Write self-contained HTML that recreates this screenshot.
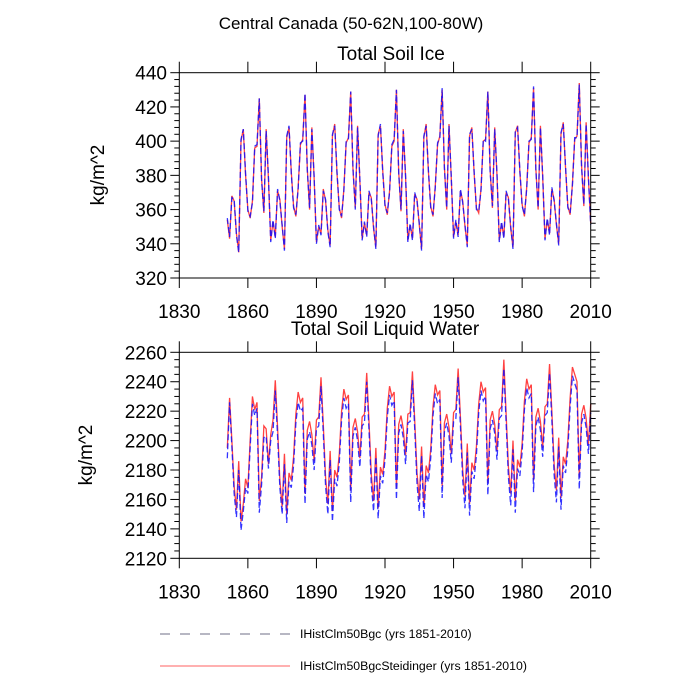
<!DOCTYPE html>
<html><head><meta charset="utf-8"><style>
body{margin:0;background:#fff;}
svg{display:block;font-family:"Liberation Sans",sans-serif;}
</style></head><body>
<svg id="chart" width="700" height="700" viewBox="0 0 700 700">
<text x="351" y="29" font-size="17" text-anchor="middle">Central Canada (50-62N,100-80W)</text>
<text x="391" y="60" font-size="19" text-anchor="middle">Total Soil Ice</text>
<text x="385" y="335" font-size="19" text-anchor="middle">Total Soil Liquid Water</text>
<text transform="translate(104,175) rotate(-90)" font-size="19" text-anchor="middle">kg/m^2</text>
<text transform="translate(92,455) rotate(-90)" font-size="19" text-anchor="middle">kg/m^2</text>
<g>
<line x1="160" y1="634" x2="290" y2="634" stroke="#404060" stroke-width="0.8" stroke-dasharray="10,10"/>
<text x="300" y="638" font-size="12.3">IHistClm50Bgc (yrs 1851-2010)</text>
<line x1="160" y1="666" x2="290" y2="666" stroke="#ff6060" stroke-width="1"/>
<text x="300" y="670" font-size="12.3">IHistClm50BgcSteidinger (yrs 1851-2010)</text>
</g>
</svg>
<script>
const startYear = 1851;
const xTickLabels = [1830,1860,1890,1920,1950,1980,2010];
const iceTicks = [320,340,360,380,400,420,440];
const liqTicks = [2120,2140,2160,2180,2200,2220,2240,2260];
const iceSteid = [
354,343,368,365,346,335,400,407,380,360,355,365,396,397,425,378,358,407,378,342,
353,344,371,366,350,337,402,408,382,362,356,373,398,401,427,384,360,408,378,341,
350,346,372,365,348,339,403,410,381,361,355,372,399,402,429,383,361,409,377,343,
352,345,370,367,349,338,404,409,383,363,357,371,397,400,430,382,359,407,379,342,
351,343,369,366,351,337,402,410,382,362,356,374,398,403,430,385,360,410,378,344,
353,345,371,365,350,339,403,408,381,361,358,372,400,401,429,383,361,408,380,342,
352,344,370,367,349,338,405,409,382,363,356,373,399,402,431,384,360,409,379,343,
354,346,372,366,351,340,404,411,384,362,357,375,401,403,434,386,362,411,378,352];
const iceBgc = [
355,344,367,366,345,335,401,407,381,359,356,364,397,398,425,377,359,406,379,341,
354,343,372,365,351,336,403,409,381,361,357,372,399,400,428,383,361,407,379,340,
351,345,371,366,347,338,404,409,382,360,356,371,400,401,429,384,360,408,378,342,
353,344,371,366,350,337,403,410,382,362,358,370,398,401,430,381,360,406,380,341,
352,342,370,365,352,336,403,409,383,361,357,373,399,402,431,384,361,409,379,343,
354,344,372,364,351,338,404,407,382,360,359,371,401,400,429,382,362,407,381,341,
353,343,371,366,350,337,406,408,383,362,357,372,400,401,432,383,361,408,380,342,
355,345,373,365,352,339,405,410,385,361,358,374,402,402,433,385,363,410,379,351];
const liqSteid = [
2195,2229,2200,2169,2153,2186,2145,2157,2174,2168,2200,2230,2221,2226,2159,2175,2210,2208,2184,2204,
2214,2241,2209,2173,2155,2191,2150,2178,2173,2189,2218,2233,2226,2229,2164,2207,2213,2204,2186,2214,
2216,2243,2211,2175,2157,2193,2152,2180,2175,2191,2220,2235,2228,2231,2166,2209,2215,2206,2188,2216,
2218,2246,2213,2177,2159,2195,2154,2182,2177,2193,2222,2237,2230,2233,2168,2211,2217,2208,2190,2218,
2219,2247,2214,2178,2160,2196,2155,2183,2178,2194,2223,2238,2231,2234,2169,2212,2218,2209,2191,2219,
2221,2249,2216,2180,2162,2198,2157,2185,2180,2196,2225,2240,2233,2236,2171,2214,2220,2211,2193,2221,
2223,2255,2218,2182,2164,2200,2159,2187,2182,2198,2227,2242,2235,2238,2173,2216,2222,2213,2195,2223,
2225,2252,2220,2184,2166,2202,2161,2189,2184,2200,2229,2250,2245,2240,2175,2218,2224,2215,2197,2225];
const liqBgc = [
2188,2226,2196,2164,2148,2180,2139,2152,2168,2164,2195,2225,2217,2222,2151,2170,2202,2203,2181,2200,
2206,2234,2203,2168,2150,2184,2144,2172,2168,2183,2212,2226,2220,2222,2157,2201,2206,2197,2180,2208,
2210,2237,2205,2169,2150,2187,2145,2174,2169,2185,2214,2229,2222,2225,2158,2203,2209,2200,2182,2210,
2212,2240,2207,2170,2152,2189,2147,2176,2171,2187,2216,2231,2224,2227,2160,2205,2211,2202,2184,2212,
2213,2241,2208,2171,2152,2190,2147,2177,2172,2188,2217,2232,2225,2228,2161,2206,2212,2203,2185,2213,
2215,2243,2210,2173,2154,2192,2149,2179,2174,2190,2219,2234,2227,2230,2163,2208,2214,2205,2187,2215,
2217,2249,2212,2175,2156,2194,2151,2181,2176,2192,2221,2236,2229,2232,2165,2210,2216,2207,2189,2217,
2219,2246,2214,2177,2158,2196,2153,2183,2178,2194,2223,2244,2239,2234,2167,2212,2218,2209,2191,2219];

const NS='http://www.w3.org/2000/svg';
const svg=document.getElementById('chart');
const X0=179.3,X1=590.7,XMIN=1830,XMAX=2010;
function xs(yr){return X0+(yr-XMIN)*(X1-X0)/(XMAX-XMIN);}
function mk(tag,attrs,parent){const e=document.createElementNS(NS,tag);for(const k in attrs)e.setAttribute(k,attrs[k]);(parent||svg).appendChild(e);return e;}

function panel(name,top,bottom,vmin,vmax,ticks,minorStep,red,blue){
  const ys=v=>top+(vmax-v)*(bottom-top)/(vmax-vmin);
  const g=mk('g',{});
  
  
  const pts=arr=>arr.map((v,i)=>xs(startYear+i).toFixed(2)+','+ys(v).toFixed(2)).join(' ');
  const r=mk('polyline',{points:pts(red),fill:'none',stroke:'#ff2020','stroke-width':1.3,'stroke-opacity':0.85},g);
  
  
  const b=mk('polyline',{points:pts(blue),fill:'none',stroke:'#1010ff','stroke-width':1.3,'stroke-dasharray':'6,3','stroke-opacity':0.85},g);
  
  
  const f=mk('rect',{x:X0,y:top,width:X1-X0,height:bottom-top,fill:'none',stroke:'#000','stroke-width':1},g);
  
  
  for(const t of xTickLabels){
    const x=xs(t);
    mk('line',{x1:x,y1:bottom,x2:x,y2:bottom+10,stroke:'#000','stroke-width':1},g);
    mk('line',{x1:x,y1:top,x2:x,y2:top-11,stroke:'#000','stroke-width':1},g);
    const tl=mk('text',{x:x,y:bottom+40,'font-size':19,'text-anchor':'middle'},g);
    tl.textContent=t;
    
    
  }
  for(let v=vmin;v<=vmax+1e-6;v+=minorStep){
    const y=ys(v);const major=ticks.includes(v);const L=major?9:5;
    mk('line',{x1:X0,y1:y,x2:X0-L,y2:y,stroke:'#000','stroke-width':1},g);
    mk('line',{x1:X1,y1:y,x2:X1+L,y2:y,stroke:'#000','stroke-width':1},g);
  }
  for(const t of ticks){
    const tl=mk('text',{x:167,y:ys(t)+7,'font-size':19,'text-anchor':'end'},g);
    tl.textContent=t;
    
    
  }
}
panel('soil-ice',72.7,278,320,440,iceTicks,4,iceSteid,iceBgc);
panel('soil-liquid',352.3,558.3,2120,2260,liqTicks,5,liqSteid,liqBgc);
</script>
</body></html>
